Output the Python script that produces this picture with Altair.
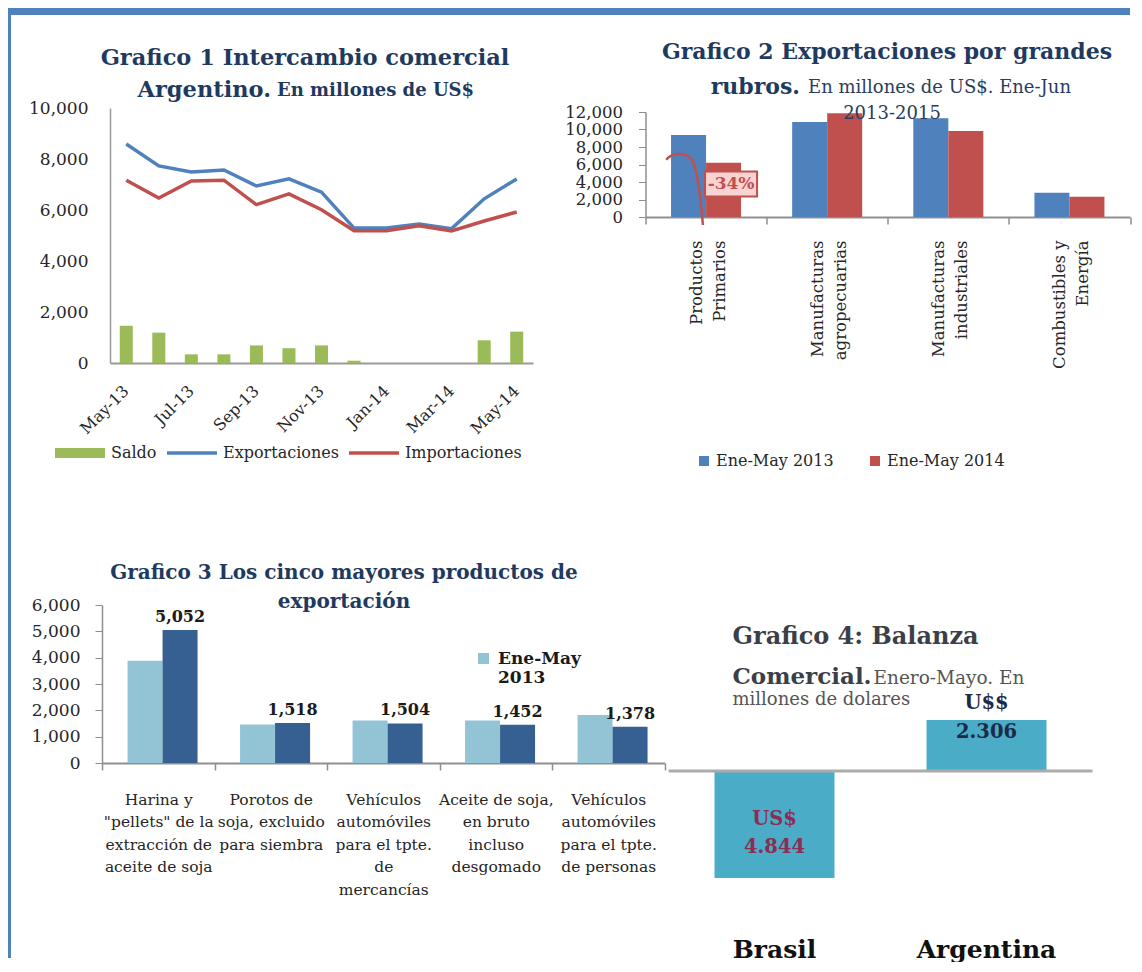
import altair as alt
import pandas as pd

FONT = "DejaVu Serif"
NAVY = "#1f3a5f"
AXIS_GRAY = "#8f8f8f"
LABEL = "#262626"

# ---------------- Grafico 1 data ----------------
meses = ["May-13", "Jun-13", "Jul-13", "Aug-13", "Sep-13", "Oct-13", "Nov-13",
         "Dec-13", "Jan-14", "Feb-14", "Mar-14", "Apr-14", "May-14"]
meses_etiqueta = ["May-13", "Jul-13", "Sep-13", "Nov-13", "Jan-14", "Mar-14", "May-14"]
exportaciones = [8590, 7730, 7490, 7570, 6940, 7220, 6700, 5290, 5290, 5450, 5270, 6440, 7220]
importaciones = [7170, 6470, 7140, 7170, 6210, 6630, 6010, 5190, 5190, 5380, 5180, 5570, 5920]
saldo = [1460, 1190, 340, 340, 690, 580, 690, 90, 0, 0, 0, 890, 1230]
series1 = ["Saldo", "Exportaciones", "Importaciones"]
colores1 = ["#9bbb59", "#4f81bd", "#c0504d"]

# ---------------- Grafico 2 data ----------------
rubros = ["Productos\nPrimarios", "Manufacturas\nagropecuarias",
          "Manufacturas\nindustriales", "Combustibles y\nEnergía"]
periodos2 = ["Ene-May 2013", "Ene-May 2014"]
rubros_2013 = [9370, 10860, 11280, 2780]
rubros_2014 = [6200, 11850, 9830, 2320]
anotacion_texto = ["-34%"]
anotacion_valor = [3770]
flecha_valor = [3200]

# ---------------- Grafico 3 data ----------------
productos = ['Harina y\n"pellets" de la\nextracción de\naceite de soja',
             "Porotos de\nsoja, excluido\npara siembra",
             "Vehículos\nautomóviles\npara el tpte.\nde\nmercancías",
             "Aceite de soja,\nen bruto\nincluso\ndesgomado",
             "Vehículos\nautomóviles\npara el tpte.\nde personas"]
periodos3 = ["Ene-May 2013", "Ene-May 2014"]
productos_2013 = [3880, 1460, 1610, 1610, 1820]
productos_2014 = [5052, 1518, 1504, 1452, 1378]

# ---------------- Grafico 4 data ----------------
paises = ["Brasil", "Argentina"]
balanza = [-4844, 2306]
etiquetas4 = ["US$\n4.844", "U$$\n2.306"]


def txt(s, x, y, size, weight="bold", color=NAVY, align="center"):
    return alt.Chart(pd.DataFrame({"t": [s]})).mark_text(
        text=s, font=FONT, fontSize=size, fontWeight=weight, color=color,
        align=align, baseline="middle"
    ).encode(x=alt.value(x), y=alt.value(y))


# ======================= GRAFICO 1 =======================
df1 = pd.DataFrame({"mes": meses, "saldo": saldo})
df1l = pd.concat([
    pd.DataFrame({"mes": meses, "serie": "Exportaciones", "valor": exportaciones}),
    pd.DataFrame({"mes": meses, "serie": "Importaciones", "valor": importaciones}),
])

x1 = alt.X("mes:N", sort=meses, title=None,
           scale=alt.Scale(range=[8, 431], paddingInner=0.6, paddingOuter=0.3),
           axis=alt.Axis(values=meses_etiqueta, labelAngle=315, labelAlign="right",
                         labelBaseline="middle", labelPadding=25, ticks=False,
                         domainColor="#9a9a9a", domainWidth=2, labelFont=FONT,
                         labelFontSize=16, labelColor=LABEL, labelOverlap=False))


def y1(field):
    return alt.Y(field, title=None, scale=alt.Scale(domain=[0, 10000], nice=False),
                 axis=alt.Axis(values=list(range(0, 10001, 2000)), format=",d", ticks=False,
                               labelPadding=22, offset=-8, domainColor="#9a9a9a",
                               domainWidth=1.5, labelFont=FONT, labelFontSize=17,
                               labelColor=LABEL, grid=False, labelOverlap=False))


bars1 = alt.Chart(df1).mark_bar(color="#9bbb59").encode(x=x1, y=y1("saldo:Q"))
lines1 = alt.Chart(df1l).mark_line(strokeWidth=3.5).encode(
    x=x1, y=y1("valor:Q"),
    stroke=alt.Stroke("serie:N", scale=alt.Scale(domain=["Exportaciones", "Importaciones"],
                                                 range=["#4f81bd", "#c0504d"]), legend=None))

path_rect = "M-1,-0.2L1,-0.2L1,0.2L-1,0.2Z"
path_line = "M-1,-0.07L1,-0.07L1,0.07L-1,0.07Z"
leg1 = alt.Legend(title=None, orient="none", legendX=-47, legendY=320, direction="horizontal",
                  symbolSize=2500, symbolStrokeWidth=0, symbolOpacity=1, labelFont=FONT,
                  labelFontSize=16, labelColor=LABEL, labelOffset=6, columnPadding=10, padding=0)
legend1 = alt.Chart(pd.DataFrame({"serie": series1})).mark_point(
    filled=True, size=0, opacity=0).encode(
    fill=alt.Fill("serie:N", scale=alt.Scale(domain=series1, range=colores1), legend=leg1),
    shape=alt.Shape("serie:N", scale=alt.Scale(domain=series1, range=[path_rect, path_line, path_line]),
                    legend=leg1),
    x=alt.value(0), y=alt.value(0))

# page frame (decoration)
frame_top = alt.Chart(pd.DataFrame({"a": [0]})).mark_rect(color="#4f81bd").encode(
    x=alt.value(-94), x2=alt.value(1028), y=alt.value(-100), y2=alt.value(-93))
frame_left = alt.Chart(pd.DataFrame({"a": [0]})).mark_rect(color="#4f81bd").encode(
    x=alt.value(-94), x2=alt.value(-91), y=alt.value(-100), y2=alt.value(850))

g1 = alt.layer(
    frame_top, frame_left, bars1, lines1, legend1,
    txt("Grafico 1 Intercambio comercial", 203, -50, 22.5),
    txt("Argentino.", 169, -18, 22.5, align="right"),
    txt("En millones de US$", 175, -17, 18, align="left"),
).properties(width=431, height=255)

# ======================= GRAFICO 2 =======================
df2 = pd.DataFrame({"rubro": rubros * 2,
                    "periodo": [periodos2[0]] * 4 + [periodos2[1]] * 4,
                    "valor": rubros_2013 + rubros_2014})

x2 = alt.X("rubro:N", sort=rubros, title=None, scale=alt.Scale(paddingInner=0, paddingOuter=0),
           axis=alt.Axis(tickBand="extent", tickSize=7, tickColor=AXIS_GRAY, tickWidth=1.5,
                         domainColor=AXIS_GRAY, domainWidth=2, labelAngle=270, labelAlign="right",
                         labelBaseline="middle", labelPadding=16, labelOffset=-10,
                         labelExpr="split(datum.label, '\\n')", labelLineHeight=23,
                         labelFont=FONT, labelFontSize=16.5, labelColor=LABEL, labelOverlap=False))


def y2(field):
    return alt.Y(field, title=None,
                 scale=alt.Scale(domain=[0, 12000], range=[109, 4], nice=False),
                 axis=alt.Axis(values=list(range(0, 12001, 2000)), format=",d", tickSize=7,
                               tickColor=AXIS_GRAY, labelPadding=16, domainColor=AXIS_GRAY,
                               domainWidth=1.5, labelFont=FONT, labelFontSize=16.5,
                               labelColor=LABEL, grid=False, labelOverlap=False))


# the colour legend is lifted to the top row, so its position is relative to that row
bars2 = alt.Chart(df2).mark_bar().encode(
    x=x2,
    xOffset=alt.XOffset("periodo:N", sort=periodos2,
                        scale=alt.Scale(paddingInner=0, paddingOuter=0.73)),
    y=y2("valor:Q"),
    color=alt.Color("periodo:N", scale=alt.Scale(domain=periodos2, range=["#4f81bd", "#c0504d"]),
                    legend=alt.Legend(title=None, orient="none", legendX=594, legendY=345,
                                      direction="horizontal", symbolType="square",
                                      symbolSize=100, symbolStrokeWidth=0, labelFont=FONT,
                                      labelFontSize=16, labelColor=LABEL, labelOffset=4,
                                      columnPadding=33, padding=0)))

df_ann = pd.DataFrame({"rubro": [rubros[0]], "valor": anotacion_valor, "texto": anotacion_texto})
df_arrow = pd.DataFrame({"rubro": [rubros[0]], "valor": flecha_valor})
arc_path = "M-0.51,-0.81C-0.35,-1.02,0.1,-1.05,0.24,-0.75C0.36,-0.45,0.45,0.3,0.51,1.0"
arrow2 = alt.Chart(df_arrow).mark_point(shape=arc_path, size=5184, filled=False, stroke="#c0504d",
                                        strokeWidth=2.5, opacity=1, xOffset=-21.5).encode(
    x=x2, y=y2("valor:Q"))
box_path = "M-1,-0.48L1,-0.48L1,0.48L-1,0.48Z"
box2 = alt.Chart(df_ann).mark_point(shape=box_path, size=2704, filled=True, fill="#f9d3d3",
                                    stroke="#c0504d", strokeWidth=2, opacity=1, xOffset=25).encode(
    x=x2, y=y2("valor:Q"))
text2 = alt.Chart(df_ann).mark_text(font=FONT, fontSize=17, fontWeight="bold", color="#c0504d",
                                    xOffset=25, baseline="middle").encode(
    x=x2, y=y2("valor:Q"), text="texto:N")

g2 = alt.layer(
    bars2, arrow2, box2, text2,
    txt("Grafico 2 Exportaciones por grandes", 241.5, -56, 22),
    txt("rubros.", 154.5, -21, 22, align="right"),
    txt("En millones de US$. Ene-Jun", 162.5, -20, 18, weight="normal", color="#2b3d5c", align="left"),
    txt("2013-2015", 246.5, 6, 18, weight="normal", color="#2b3d5c"),
).properties(width=484.5, height=109)

# ======================= GRAFICO 3 =======================
df3 = pd.DataFrame({"producto": productos * 2,
                    "periodo": [periodos3[0]] * 5 + [periodos3[1]] * 5,
                    "valor": productos_2013 + productos_2014})

x3 = alt.X("producto:N", sort=productos, title=None, scale=alt.Scale(paddingInner=0, paddingOuter=0),
           axis=alt.Axis(tickBand="extent", tickSize=7, tickColor=AXIS_GRAY, tickWidth=1.5,
                         domainColor=AXIS_GRAY, domainWidth=2, labelAngle=0, labelAlign="center",
                         labelBaseline="top", labelPadding=22,
                         labelExpr="split(datum.label, '\\n')", labelLineHeight=22.5,
                         labelFont=FONT, labelFontSize=15.5, labelColor=LABEL, labelOverlap=False,
                         labelLimit=300))
xo3 = alt.XOffset("periodo:N", sort=periodos3, scale=alt.Scale(paddingInner=0, paddingOuter=0.786))


def y3(field):
    return alt.Y(field, title=None, scale=alt.Scale(domain=[0, 6000], nice=False),
                 axis=alt.Axis(values=list(range(0, 6001, 1000)), format=",d", tickSize=7,
                               tickColor=AXIS_GRAY, labelPadding=15, domainColor=AXIS_GRAY,
                               domainWidth=1.5, labelFont=FONT, labelFontSize=17,
                               labelColor=LABEL, grid=False, labelOverlap=False))


bars3 = alt.Chart(df3).mark_bar().encode(
    x=x3, xOffset=xo3, y=y3("valor:Q"),
    color=alt.Color("periodo:N", scale=alt.Scale(domain=periodos3, range=["#93c4d6", "#376092"]),
                    legend=alt.Legend(title=None, orient="none", legendX=373, legendY=45,
                                      values=[periodos3[0]], symbolType="square", symbolSize=121,
                                      symbolStrokeWidth=0, labelFont=FONT, labelFontSize=17,
                                      labelFontWeight="bold", labelColor="#1a1a1a",
                                      labelBaseline="middle", labelOffset=6, padding=0,
                                      labelExpr="split(datum.label, ' ')")))
labels3 = alt.Chart(df3).transform_filter(alt.datum.periodo == periodos3[1]).mark_text(
    font=FONT, fontSize=16, fontWeight="bold", color="#1a1a1a", baseline="middle", dy=-13).encode(
    x=x3, xOffset=xo3, y=y3("valor:Q"), text=alt.Text("valor:Q", format=",d"))

g3 = alt.layer(
    bars3, labels3,
    txt("Grafico 3 Los cinco mayores productos de", 242, -32, 20),
    txt("exportación", 242, -3, 20),
).properties(width=562.5, height=158)

# ======================= GRAFICO 4 =======================
df4 = pd.DataFrame({"pais": paises, "valor": balanza, "etiqueta": etiquetas4})
x4 = alt.X("pais:N", sort=paises, title=None,
           scale=alt.Scale(paddingInner=0.434, paddingOuter=0.217),
           axis=alt.Axis(domain=False, ticks=False, labelAngle=0, labelPadding=2, labelFont=FONT,
                         labelFontSize=25, labelFontWeight="bold", labelColor="#111111"))
y4 = alt.Y("valor:Q", title=None, scale=alt.Scale(domain=[-7421, 7511], nice=False, zero=False),
           axis=None)

bars4 = alt.Chart(df4).mark_bar(color="#4aacc6").encode(x=x4, y=y4)
zero4 = alt.Chart(pd.DataFrame({"valor": [0]})).mark_rule(color="#ababab", strokeWidth=3).encode(
    y=y4)
lab4_pos = alt.Chart(df4).transform_filter(alt.datum.valor > 0).mark_text(
    font=FONT, fontSize=19.5, fontWeight="bold", color="#1c2a48", baseline="middle",
    lineBreak="\n", lineHeight=29, dy=-17).encode(x=x4, y=y4, text="etiqueta:N")
lab4_neg = alt.Chart(df4).transform_filter(alt.datum.valor < 0).transform_calculate(
    mitad="datum.valor / 2").mark_text(
    font=FONT, fontSize=19.5, fontWeight="bold", color="#8b2d55", baseline="middle",
    lineBreak="\n", lineHeight=28, dy=-6).encode(
    x=x4, y=alt.Y("mitad:Q", axis=None), text="etiqueta:N")

g4 = alt.layer(
    bars4, zero4, lab4_pos, lab4_neg,
    txt("Grafico 4: Balanza", 64, 32, 24, color="#3c3f48", align="left"),
    txt("Comercial.", 64, 72, 23, color="#3c3f48", align="left"),
    txt("Enero-Mayo. En", 205, 73, 18.5, weight="normal", color="#555555", align="left"),
    txt("millones de dolares", 64, 95, 18, weight="normal", color="#555555", align="left"),
).properties(width=424, height=330)

row1 = alt.hconcat(g1, g2, spacing=112.5, bounds="flush")
row2 = alt.hconcat(g3, g4, spacing=3.5, bounds="flush")
chart = alt.vconcat(row1, row2, spacing=497, bounds="flush").resolve_scale(
    color="independent"
).properties(padding=0, background="white").configure_view(stroke=None)

chart.save("out.html", embed_options={"renderer": "svg", "actions": False})
